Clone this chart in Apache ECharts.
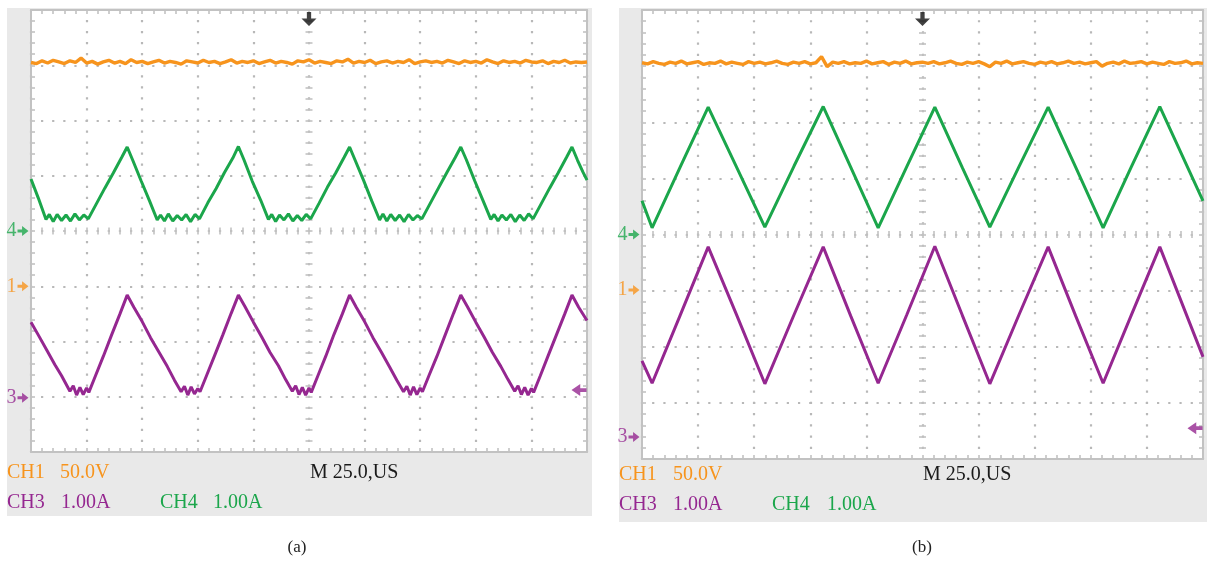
<!DOCTYPE html>
<html><head><meta charset="utf-8">
<script src="https://cdn.jsdelivr.net/npm/echarts@6/dist/echarts.min.js"></script>
<style>html,body{margin:0;padding:0;background:#fff}#c{width:1208px;height:562px}</style>
</head><body><div id="c"></div>
<script>
// ---------- data (units: screen divisions, x -5..5, y -4..4) ----------
const sampleStep = 0.1; // orange traces sampled every 0.1 div starting at x=-5
const orangeA = [
3.05,3.03,3.08,3.04,3.09,3.06,3.03,3.08,3.05,3.13,
3.04,3.07,3.02,3.06,3.09,3.04,3.07,3.03,3.10,3.05,
3.07,3.03,3.06,3.09,3.04,3.07,3.05,3.02,3.08,3.06,
3.04,3.09,3.05,3.07,3.03,3.06,3.10,3.04,3.07,3.05,
3.08,3.03,3.06,3.09,3.04,3.07,3.05,3.02,3.08,3.06,
3.10,3.04,3.07,3.05,3.03,3.08,3.06,3.11,3.04,3.07,
3.05,3.09,3.03,3.06,3.08,3.04,3.07,3.05,3.10,3.03,
3.06,3.08,3.05,3.07,3.04,3.09,3.06,3.03,3.08,3.05,
3.07,3.04,3.10,3.06,3.03,3.08,3.05,3.07,3.04,3.09,
3.06,3.05,3.08,3.03,3.07,3.05,3.09,3.04,3.06,3.05,3.06];
const orangeB = [
3.06,3.04,3.08,3.05,3.03,3.07,3.05,3.09,3.04,3.06,
3.08,3.03,3.06,3.05,3.09,3.04,3.07,3.05,3.03,3.08,
3.05,3.07,3.04,3.06,3.09,3.05,3.03,3.07,3.05,3.08,
3.04,3.06,3.17,2.99,3.07,3.05,3.08,3.04,3.06,3.05,
3.09,3.04,3.06,3.08,3.03,3.07,3.05,3.09,3.04,3.06,
3.07,3.05,3.08,3.04,3.06,3.09,3.05,3.03,3.07,3.05,
3.08,3.04,2.99,3.07,3.05,3.09,3.04,3.06,3.08,3.05,
3.03,3.07,3.05,3.08,3.04,3.06,3.09,3.05,3.07,3.04,
3.06,3.08,3.00,3.05,3.07,3.04,3.09,3.05,3.06,3.08,
3.04,3.07,3.05,3.03,3.08,3.05,3.06,3.09,3.04,3.06,3.05];

const greenA = [
[-5,0.94],[-4.87,0.6],[-4.73,0.21],[-4.67,0.3],[-4.6,0.17],[-4.53,0.3],[-4.45,0.19],[-4.37,0.29],[-4.29,0.18],[-4.21,0.31],[-4.13,0.2],[-4.05,0.29],[-3.97,0.22],
[-3.82,0.5],[-3.67,0.78],[-3.52,1.05],[-3.37,1.33],[-3.27,1.52],
[-3.17,1.28],[-3.02,0.91],[-2.87,0.55],[-2.73,0.2],[-2.67,0.29],[-2.6,0.18],[-2.53,0.31],[-2.45,0.18],[-2.37,0.28],[-2.29,0.2],[-2.21,0.3],[-2.13,0.17],[-2.05,0.3],[-1.97,0.22],
[-1.82,0.51],[-1.67,0.77],[-1.52,1.06],[-1.37,1.32],[-1.27,1.53],
[-1.17,1.29],[-1.02,0.9],[-0.87,0.56],[-0.73,0.21],[-0.67,0.3],[-0.6,0.17],[-0.53,0.29],[-0.45,0.2],[-0.37,0.31],[-0.29,0.18],[-0.21,0.28],[-0.13,0.19],[-0.05,0.3],[0.03,0.22],
[0.18,0.5],[0.33,0.79],[0.48,1.05],[0.63,1.33],[0.73,1.52],
[0.83,1.28],[0.98,0.92],[1.13,0.54],[1.27,0.2],[1.33,0.31],[1.4,0.18],[1.47,0.3],[1.55,0.19],[1.63,0.29],[1.71,0.17],[1.79,0.3],[1.87,0.2],[1.95,0.28],[2.03,0.22],
[2.18,0.5],[2.33,0.78],[2.48,1.06],[2.63,1.33],[2.73,1.52],
[2.83,1.29],[2.98,0.91],[3.13,0.55],[3.27,0.21],[3.33,0.3],[3.4,0.18],[3.47,0.29],[3.55,0.2],[3.63,0.3],[3.71,0.17],[3.79,0.29],[3.87,0.19],[3.95,0.31],[4.03,0.22],
[4.18,0.5],[4.33,0.78],[4.48,1.05],[4.63,1.33],[4.73,1.52],
[4.83,1.28],[4.93,1.06],[5,0.92]];

const purpleA = [
[-5,-1.65],[-4.87,-1.88],[-4.72,-2.15],[-4.57,-2.42],[-4.45,-2.62],[-4.3,-2.9],
[-4.24,-2.8],[-4.18,-2.97],[-4.12,-2.83],[-4.06,-2.96],[-4.0,-2.84],[-3.96,-2.92],
[-3.84,-2.62],[-3.7,-2.27],[-3.55,-1.88],[-3.4,-1.5],[-3.27,-1.16],
[-3.15,-1.38],[-3.0,-1.64],[-2.85,-1.93],[-2.7,-2.19],[-2.55,-2.45],[-2.42,-2.7],[-2.3,-2.91],
[-2.24,-2.81],[-2.18,-2.97],[-2.12,-2.82],[-2.06,-2.95],[-2.0,-2.85],[-1.96,-2.91],
[-1.84,-2.61],[-1.7,-2.26],[-1.55,-1.88],[-1.4,-1.49],[-1.27,-1.16],
[-1.15,-1.37],[-1.0,-1.65],[-0.85,-1.92],[-0.7,-2.2],[-0.55,-2.44],[-0.42,-2.69],[-0.3,-2.9],
[-0.24,-2.8],[-0.18,-2.96],[-0.12,-2.83],[-0.06,-2.97],[0.0,-2.84],[0.04,-2.92],
[0.16,-2.62],[0.3,-2.27],[0.45,-1.87],[0.6,-1.5],[0.73,-1.16],
[0.85,-1.38],[1.0,-1.64],[1.15,-1.93],[1.3,-2.19],[1.45,-2.46],[1.58,-2.7],[1.7,-2.91],
[1.76,-2.81],[1.82,-2.97],[1.88,-2.82],[1.94,-2.96],[2.0,-2.84],[2.04,-2.91],
[2.16,-2.61],[2.3,-2.27],[2.45,-1.88],[2.6,-1.49],[2.73,-1.16],
[2.85,-1.37],[3.0,-1.65],[3.15,-1.92],[3.3,-2.2],[3.45,-2.45],[3.58,-2.69],[3.7,-2.9],
[3.76,-2.8],[3.82,-2.96],[3.88,-2.83],[3.94,-2.97],[4.0,-2.85],[4.04,-2.92],
[4.16,-2.62],[4.3,-2.26],[4.45,-1.88],[4.6,-1.5],[4.73,-1.16],
[4.85,-1.38],[5,-1.62]];

const greenB = [
[-5,0.6],[-4.82,0.12],[-4.32,1.2],[-3.82,2.27],[-3.31,1.19],[-2.81,0.13],[-2.29,1.22],[-1.77,2.28],
[-1.28,1.2],[-0.79,0.12],[-0.28,1.21],[0.22,2.27],[0.71,1.19],[1.20,0.13],[1.72,1.21],[2.24,2.27],
[2.73,1.2],[3.22,0.12],[3.72,1.2],[4.23,2.28],[5,0.6]];

const purpleB = [
[-5,-2.25],[-4.82,-2.65],[-4.32,-1.44],[-3.82,-0.22],[-3.31,-1.44],[-2.81,-2.66],[-2.29,-1.43],[-1.77,-0.22],
[-1.28,-1.45],[-0.79,-2.65],[-0.28,-1.43],[0.22,-0.21],[0.71,-1.44],[1.20,-2.66],[1.72,-1.43],[2.24,-0.22],
[2.73,-1.45],[3.22,-2.65],[3.72,-1.44],[4.23,-0.22],[5,-2.18]];

// channel ground markers (label, level in div)
const markerLabels = ['4','1','3'];
const markerLevelsA = [0, -1.0, -3.02];
const markerLevelsB = [0, -0.99, -3.61];
const rightArrowA = -2.88;
const rightArrowB = -3.45;
const triggerX = 0;

// text
const chLabels = ['CH1','CH3','CH4'];
const scaleLabels = ['50.0V','1.00A','1.00A'];
const timeLabel = 'M 25.0,US';
const captions = ['(a)','(b)'];

// ---------- styling / layout ----------
const COL = {orange:'#f7941d', green:'#1ba64b', purple:'#952790', border:'#c2c2c2', dot:'#b8b8b8', panel:'#e9e9e9'};
const chColors = [COL.orange, COL.green, COL.purple];
const FONT = '"Liberation Serif", "Times New Roman", serif';
const layout = [
  {grid:{left:31, top:10, width:556, height:442}, panel:{x:7,y:8,w:585,h:508},
   txt:{row1:472.5,row2:502.5,ch1:7,v1:60,ch3:7,a3:61,ch4:160,a4:213,m:310}, cap:[297,548]},
  {grid:{left:642, top:10, width:561, height:449}, panel:{x:619,y:8,w:588,h:514},
   txt:{row1:475,row2:505,ch1:619,v1:673,ch3:619,a3:673,ch4:772,a4:827,m:923}, cap:[922,548]}
];

const ARROW_R = 'path://M0,3.5 L5,3.5 L5,0 L12,5 L5,10 L5,6.5 L0,6.5 Z';
const ARROW_L = 'path://M12,3.5 L7,3.5 L7,0 L0,5 L7,10 L7,6.5 L12,6.5 Z';
const ARROW_D = 'path://M5,0 L9,0 L9,7 L14,7 L7,15 L0,7 L5,7 Z';

const grids = [], xAxes = [], yAxes = [], series = [], graphics = [];
const tickStyle = {color: COL.border, width: 1.6};

layout.forEach((L, gi) => {
  grids.push(Object.assign({show:true, backgroundColor:'#fff', borderWidth:0}, L.grid));
  const W = L.grid.width, H = L.grid.height;
  const dx = W/50, dy = H/40;
  const xb = xAxes.length, yb = yAxes.length;
  const base = {gridIndex:gi, type:'value', min:-5, max:5, interval:1, axisLabel:{show:false}};
  const baseY = {gridIndex:gi, type:'value', min:-4, max:4, interval:1, axisLabel:{show:false}};
  xAxes.push(Object.assign({}, base, {position:'bottom',
    axisLine:{onZero:false, lineStyle:{color:COL.border, width:2}},
    axisTick:{inside:true, length:4, lineStyle:tickStyle},
    minorTick:{show:true, splitNumber:5, length:4, lineStyle:tickStyle},
    splitLine:{show:true, lineStyle:{color:COL.dot, width:2.2, type:[2.2, dy-2.2], dashOffset:-dy+1.1}}}));
  xAxes.push(Object.assign({}, base, {position:'top',
    axisLine:{onZero:false, lineStyle:{color:COL.border, width:2}},
    axisTick:{inside:true, length:4, lineStyle:tickStyle},
    minorTick:{show:true, splitNumber:5, length:4, lineStyle:tickStyle},
    splitLine:{show:false}}));
  ['top','bottom'].forEach(pos => xAxes.push(Object.assign({}, base, {position:pos,
    axisLine:{show:false, onZero:true, onZeroAxisIndex:yb},
    axisTick:{inside:false, length:3.5, lineStyle:tickStyle},
    minorTick:{show:true, splitNumber:5, length:3.5, lineStyle:tickStyle},
    splitLine:{show:false}})));
  yAxes.push(Object.assign({}, baseY, {position:'left',
    axisLine:{onZero:false, lineStyle:{color:COL.border, width:2}},
    axisTick:{inside:true, length:4, lineStyle:tickStyle},
    minorTick:{show:true, splitNumber:5, length:4, lineStyle:tickStyle},
    splitLine:{show:true, lineStyle:{color:COL.dot, width:2.2, type:[2.2, dx-2.2], dashOffset:-dx+1.1}}}));
  yAxes.push(Object.assign({}, baseY, {position:'right',
    axisLine:{onZero:false, lineStyle:{color:COL.border, width:2}},
    axisTick:{inside:true, length:4, lineStyle:tickStyle},
    minorTick:{show:true, splitNumber:5, length:4, lineStyle:tickStyle},
    splitLine:{show:false}}));
  ['left','right'].forEach(pos => yAxes.push(Object.assign({}, baseY, {position:pos,
    axisLine:{show:false, onZero:true, onZeroAxisIndex:xb},
    axisTick:{inside:false, length:3.5, lineStyle:tickStyle},
    minorTick:{show:true, splitNumber:5, length:3.5, lineStyle:tickStyle},
    splitLine:{show:false}})));

  const orange = gi === 0 ? orangeA : orangeB;
  const green = gi === 0 ? greenA : greenB;
  const purple = gi === 0 ? purpleA : purpleB;
  const lineBase = {type:'line', xAxisIndex:xb, yAxisIndex:yb, symbol:'none', showSymbol:false, animation:false, z:3};
  series.push(Object.assign({}, lineBase, {name:'CH1', data: orange.map((v,i)=>[-5+i*sampleStep, v]),
    lineStyle:{color:COL.orange, width:3.4}}));
  series.push(Object.assign({}, lineBase, {name:'CH4', data: green, lineStyle:{color:COL.green, width:3}}));
  series.push(Object.assign({}, lineBase, {name:'CH3', data: purple, lineStyle:{color:COL.purple, width:3}}));

  const levels = gi === 0 ? markerLevelsA : markerLevelsB;
  const mColors = [COL.green, COL.orange, COL.purple];
  series.push({type:'scatter', xAxisIndex:xb, yAxisIndex:yb, clip:false, animation:false, z:5,
    symbol:ARROW_R, symbolSize:[11,10], symbolOffset:[-8,0],
    data: markerLabels.map((lab,i)=>({name:lab, value:[-5, levels[i]], itemStyle:{color:mColors[i]},
      label:{show:true, position:'left', distance:1, formatter:'{b}', color:mColors[i], fontFamily:FONT, fontSize:20}}))});
  series.push({type:'scatter', xAxisIndex:xb, yAxisIndex:yb, clip:false, animation:false, z:5,
    symbol:ARROW_L, symbolSize:[15,12], symbolOffset:[-8,0], itemStyle:{color:COL.purple},
    data:[[5, gi===0 ? rightArrowA : rightArrowB]]});
  series.push({type:'scatter', xAxisIndex:xb, yAxisIndex:yb, clip:false, animation:false, z:5,
    symbol:ARROW_D, symbolSize:[15,14], symbolOffset:[0,9], itemStyle:{color:'#111'},
    data:[[triggerX, 4]]});

  const P = L.panel, T = L.txt;
  graphics.push({type:'rect', z:-10, shape:{x:P.x, y:P.y, width:P.w, height:P.h}, style:{fill:COL.panel}});
  const t = (x, y, text, fill, size) => ({type:'text', z:10, x:x, y:y,
    style:{text:text, fill:fill, font:(size||20)+'px ' + FONT, verticalAlign:'middle', align:'left'}});
  graphics.push(t(T.ch1, T.row1, chLabels[0], chColors[0]));
  graphics.push(t(T.v1, T.row1, scaleLabels[0], chColors[0]));
  graphics.push(t(T.ch3, T.row2, chLabels[1], COL.purple));
  graphics.push(t(T.a3, T.row2, scaleLabels[1], COL.purple));
  graphics.push(t(T.ch4, T.row2, chLabels[2], COL.green));
  graphics.push(t(T.a4, T.row2, scaleLabels[2], COL.green));
  graphics.push(t(T.m, T.row1, timeLabel, '#1a1a1a'));
  graphics.push({type:'text', z:10, x:L.cap[0], y:L.cap[1],
    style:{text:captions[gi], fill:'#222', font:'17px ' + FONT, verticalAlign:'middle', align:'center'}});
});

const chart = echarts.init(document.getElementById('c'));
chart.setOption({animation:false, backgroundColor:'#fff', grid:grids, xAxis:xAxes, yAxis:yAxes, series:series, graphic:graphics});
</script></body></html>
